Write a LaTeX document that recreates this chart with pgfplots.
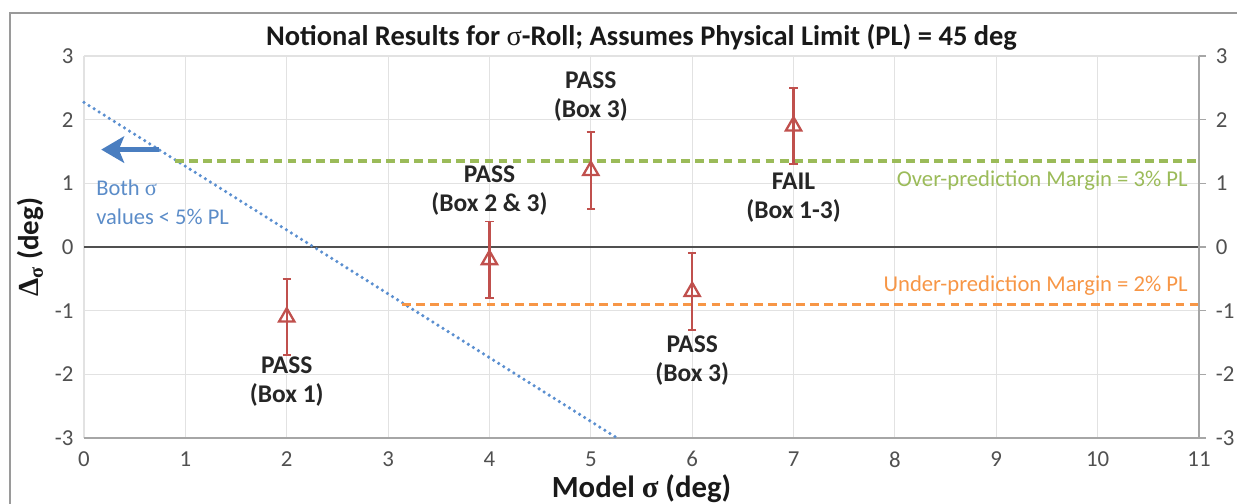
\documentclass[border=0pt]{standalone}
\usepackage{pgfplots}
\pgfplotsset{compat=1.18}
\usetikzlibrary{arrows.meta}
\usepackage{fontspec}
\setmainfont{Carlito}
\newfontfamily\grk{Liberation Serif}
\definecolor{exred}{HTML}{C0504D}
\definecolor{exgreen}{HTML}{9BBB59}
\definecolor{exorange}{HTML}{F79646}
\definecolor{dotblue}{HTML}{5B8FD0}
\definecolor{arrowblue}{HTML}{4A7EC0}
\definecolor{textblue}{HTML}{5B8CC8}
\definecolor{gridgray}{HTML}{E2E2E2}
\definecolor{axisgray}{HTML}{A6A6A6}
\definecolor{zerogray}{HTML}{505050}
\definecolor{ticktext}{HTML}{505050}
\definecolor{bordergray}{HTML}{9A9A9A}
\begin{document}
\begin{tikzpicture}
\useasboundingbox (-1.68cm,-1.32cm) rectangle (23.06cm,8.76cm);
\draw[color=bordergray, line width=1.2pt] (-1.48cm,-1.5cm) -- (-1.48cm,8.50cm) -- (23.3cm,8.50cm);
\begin{axis}[
  at={(0,0)}, anchor=south west, scale only axis,
  width=22.3cm, height=7.64cm,
  xmin=0, xmax=11, ymin=-3, ymax=3,
  xtick={0,1,...,11}, ytick={-3,-2,...,3},
  grid=major, grid style={color=gridgray, line width=0.6pt},
  axis x line*=bottom, axis y line*=left,
  x axis line style={draw=axisgray, line width=0.9pt, -},
  y axis line style={draw=none},
  tick style={draw=none},
  /pgf/number format/assume math mode=true,
  ticklabel style={font=\fontsize{13}{15}\selectfont, color=ticktext},
  xticklabel style={yshift=-6.5pt, inner sep=1pt},
  yticklabel style={xshift=-2.5pt},
  every axis title shift=0pt,
  title={Notional Results for {\grk\mdseries σ}-Roll; Assumes Physical Limit (PL) = 45 deg},
  title style={font=\fontsize{16.2}{19}\selectfont\bfseries, at={(axis description cs:0.5,1.05)}, anchor=center, color=black!90},
  xlabel={Model {\grk σ} (deg)},
  every axis x label/.style={at={(axis description cs:0.5,-0.134)}, anchor=center, inner sep=0pt, font=\fontsize{17.5}{20}\selectfont\bfseries, color=black!90},
  ylabel={{\grk Δ}\textsubscript{\grk σ} (deg)},
  every axis y label/.style={at={(axis description cs:-0.0484,0.5)}, anchor=center, rotate=90, font=\fontsize{16.5}{19}\selectfont\bfseries, color=black!90},
  clip=false,
]
% zero line
\addplot[draw=zerogray, line width=1pt] coordinates {(0,0) (11,0)};
% blue dotted boundary
\addplot[draw=dotblue, line width=2pt, line cap=round, dash pattern=on 0pt off 3.4pt] coordinates {(0,2.27) (5.26,-3)};
% over-prediction margin
\addplot[draw=exgreen, line width=1.9pt, dash pattern=on 5pt off 3pt] coordinates {(0.9,1.35) (11,1.35)};
% under-prediction margin
\addplot[draw=exorange, line width=1.9pt, dash pattern=on 5pt off 3pt] coordinates {(3.14,-0.9) (11,-0.9)};
% results with error bars
\addplot[exred, only marks, mark=triangle, mark size=5pt,
  mark options={solid, line width=1.3pt},
  error bars/.cd, y dir=both, y explicit,
  error bar style={line width=1.3pt, exred},
  error mark options={rotate=90, line width=1.1pt, mark size=2.4pt, exred}]
  coordinates {
  (2,-1.1) +- (0,0.6)
  (4,-0.2) +- (0,0.6)
  (5,1.2) +- (0,0.6)
  (6,-0.7) +- (0,0.6)
  (7,1.9) +- (0,0.6)
  };
% annotations
\tikzset{ann/.style={font=\fontsize{14.5}{16.5}\selectfont\bfseries, align=center, color=black!85}}
\node[ann] at (axis cs:2,-2.12) {PASS\\(Box 1)};
\node[ann] at (axis cs:4,0.89) {PASS\\(Box 2 \& 3)};
\node[ann] at (axis cs:5,2.36) {PASS\\(Box 3)};
\node[ann] at (axis cs:6,-1.78) {PASS\\(Box 3)};
\node[ann] at (axis cs:7,0.77) {FAIL\\(Box 1-3)};
\node[anchor=east, color=exgreen, font=\fontsize{12.9}{15}\selectfont] at (axis cs:10.95,1.05) {Over-prediction Margin = 3\% PL};
\node[anchor=east, color=exorange, font=\fontsize{12.9}{15}\selectfont] at (axis cs:10.95,-0.61) {Under-prediction Margin = 2\% PL};
\node[anchor=west, align=left, color=textblue, font=\fontsize{12.8}{16.5}\selectfont] at (axis cs:0.06,0.71) {Both {\grk σ}\\values < 5\% PL};
\draw[arrowblue, line width=2.8pt, -{Stealth[length=13pt, width=15pt, inset=3pt]}] (axis cs:0.74,1.53) -- (axis cs:0.17,1.53);
\end{axis}
\begin{axis}[
  at={(0,0)}, anchor=south west, scale only axis,
  width=22.3cm, height=7.64cm,
  xmin=0, xmax=11, ymin=-3, ymax=3,
  ytick={-3,-2,...,3},
  axis x line=none, axis y line*=right,
  y axis line style={draw=axisgray, line width=0.9pt, -},
  tick align=outside, major tick length=4pt,
  ytick style={draw=axisgray, line width=0.9pt},
  /pgf/number format/assume math mode=true,
  yticklabel style={font=\fontsize{13}{15}\selectfont, color=ticktext, xshift=2pt},
]
\addplot[draw=none] coordinates {(0,0)};
\end{axis}
\end{tikzpicture}
\end{document}
